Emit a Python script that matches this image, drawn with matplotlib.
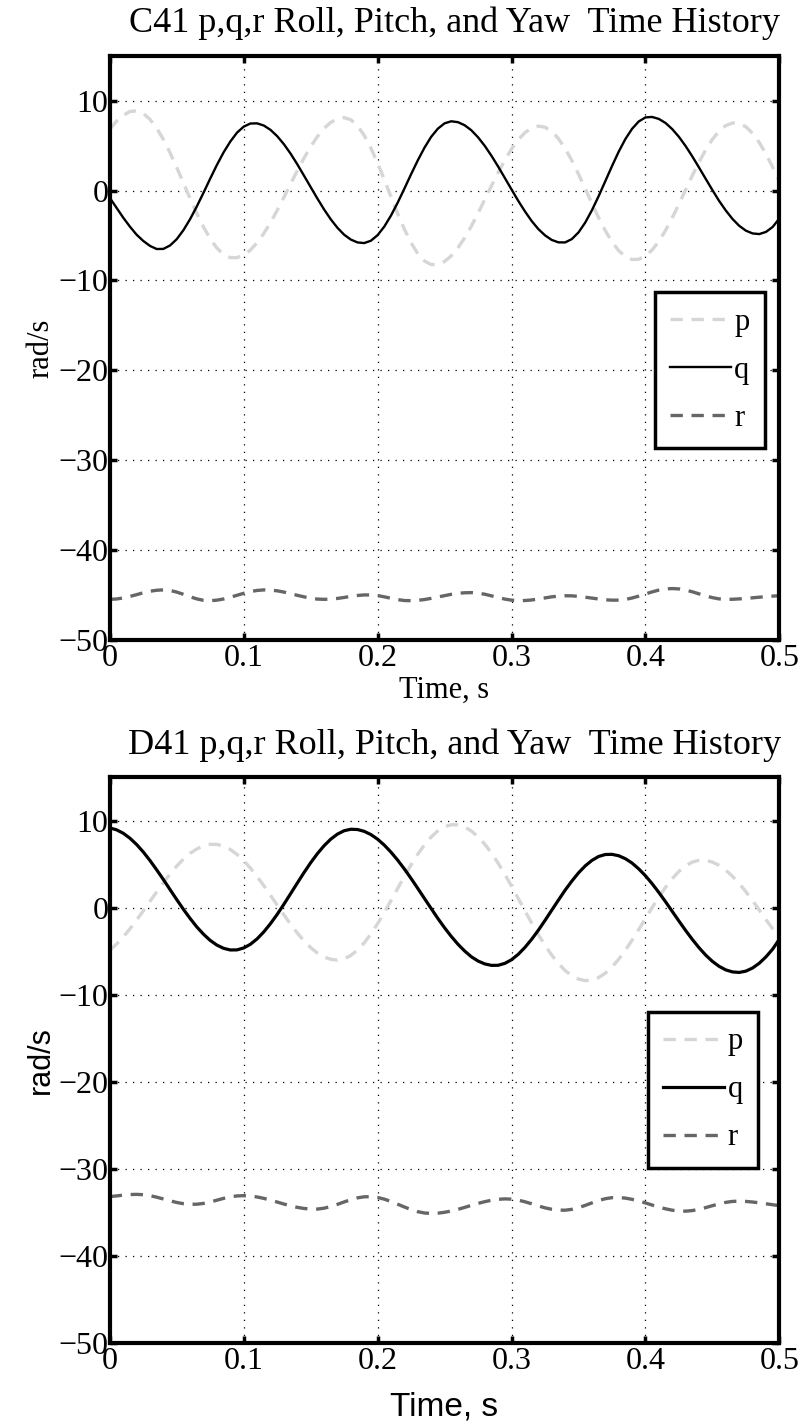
import numpy as np
import matplotlib
matplotlib.use("Agg")
import matplotlib.pyplot as plt

# Time base, 5 ms steps over half a second
t = np.linspace(0, 0.5, 101)

# C41 rates (rad/s)
c41_p = [6.8, 7.7, 8.35, 8.78, 8.86, 8.57, 7.92, 6.95, 5.69, 4.21,
         2.57, 0.85, -0.88, -2.54, -4.05, -5.36, -6.39, -7.10, -7.46, -7.46,
         -7.18, -6.62, -5.81, -4.78, -3.57, -2.21, -0.76, 0.72, 2.19, 3.59,
         4.87, 5.99, 6.91, 7.57, 7.98, 8.11, 7.87, 7.20, 6.13, 4.72,
         3.05, 1.22, -0.69, -2.57, -4.30, -5.81, -7.02, -7.83, -8.23, -8.21,
         -7.88, -7.26, -6.38, -5.26, -3.96, -2.53, -1.01, 0.52, 2.00, 3.38,
         4.62, 5.65, 6.43, 6.94, 7.16, 7.04, 6.58, 5.78, 4.69, 3.35,
         1.84, 0.22, -1.42, -3.00, -4.45, -5.70, -6.68, -7.34, -7.67, -7.64,
         -7.28, -6.60, -5.64, -4.43, -3.03, -1.51, 0.08, 1.66, 3.16, 4.53,
         5.70, 6.60, 7.22, 7.51, 7.48, 7.09, 6.36, 5.34, 4.06, 2.59,
         1.0]
c41_q = [-0.8, -1.9, -3.0, -4.0, -4.9, -5.6, -6.15, -6.5, -6.49, -6.11,
         -5.41, -4.41, -3.18, -1.77, -0.25, 1.32, 2.84, 4.24, 5.44, 6.43,
         7.10, 7.45, 7.47, 7.23, 6.75, 6.05, 5.16, 4.11, 2.93, 1.67,
         0.39, -0.88, -2.09, -3.19, -4.14, -4.91, -5.45, -5.77, -5.84, -5.58,
         -4.96, -4.01, -2.78, -1.35, 0.21, 1.81, 3.35, 4.76, 5.97, 6.88,
         7.47, 7.70, 7.60, 7.26, 6.70, 5.92, 4.97, 3.87, 2.67, 1.40,
         0.12, -1.14, -2.31, -3.38, -4.28, -4.98, -5.49, -5.76, -5.77, -5.40,
         -4.66, -3.57, -2.20, -0.64, 1.03, 2.71, 4.31, 5.72, 6.86, 7.68,
         8.13, 8.18, 7.96, 7.51, 6.83, 5.97, 4.94, 3.79, 2.56, 1.30,
         0.05, -1.15, -2.22, -3.16, -3.92, -4.46, -4.77, -4.84, -4.6, -4.05,
         -3.1]
c41_r = [-45.45, -45.41, -45.30, -45.13, -44.93, -44.72, -44.55, -44.44, -44.40, -44.46,
         -44.64, -44.89, -45.16, -45.40, -45.56, -45.60, -45.54, -45.41, -45.22, -45.00,
         -44.78, -44.59, -44.46, -44.40, -44.42, -44.50, -44.64, -44.81, -45.00, -45.17,
         -45.32, -45.42, -45.45, -45.42, -45.35, -45.24, -45.12, -45.02, -44.96, -44.96,
         -45.03, -45.17, -45.33, -45.48, -45.58, -45.60, -45.56, -45.47, -45.34, -45.19,
         -45.04, -44.89, -44.78, -44.72, -44.70, -44.76, -44.88, -45.06, -45.25, -45.42,
         -45.54, -45.60, -45.58, -45.52, -45.41, -45.29, -45.17, -45.09, -45.05, -45.06,
         -45.12, -45.21, -45.31, -45.41, -45.50, -45.54, -45.54, -45.46, -45.30, -45.09,
         -44.85, -44.62, -44.42, -44.29, -44.25, -44.29, -44.42, -44.61, -44.84, -45.07,
         -45.26, -45.40, -45.45, -45.44, -45.40, -45.35, -45.28, -45.21, -45.15, -45.09,
         -45.05]

# D41 rates (rad/s)
d41_p = [-4.88, -4.18, -3.36, -2.43, -1.42, -0.36, 0.73, 1.82, 2.88, 3.88,
         4.79, 5.59, 6.26, 6.76, 7.12, 7.29, 7.28, 7.08, 6.70, 6.14,
         5.42, 4.57, 3.60, 2.55, 1.45, 0.32, -0.80, -1.88, -2.88, -3.79,
         -4.56, -5.19, -5.64, -5.91, -6.00, -5.86, -5.47, -4.85, -4.02, -3.00,
         -1.82, -0.53, 0.83, 2.23, 3.61, 4.93, 6.15, 7.23, 8.14, 8.83,
         9.31, 9.54, 9.52, 9.28, 8.82, 8.16, 7.31, 6.29, 5.13, 3.85,
         2.49, 1.08, -0.34, -1.73, -3.06, -4.30, -5.43, -6.39, -7.20, -7.79,
         -8.18, -8.36, -8.30, -8.01, -7.51, -6.80, -5.91, -4.88, -3.72, -2.49,
         -1.23, 0.03, 1.24, 2.35, 3.35, 4.18, 4.82, 5.25, 5.46, 5.45,
         5.25, 4.87, 4.32, 3.62, 2.79, 1.85, 0.82, -0.26, -1.37, -2.4,
         -3.3]
d41_q = [9.17, 8.96, 8.57, 8.00, 7.28, 6.42, 5.44, 4.37, 3.26, 2.10,
         0.95, -0.17, -1.22, -2.19, -3.03, -3.74, -4.28, -4.65, -4.84, -4.83,
         -4.61, -4.19, -3.57, -2.77, -1.82, -0.76, 0.40, 1.61, 2.83, 4.03,
         5.17, 6.21, 7.12, 7.88, 8.46, 8.85, 9.02, 8.99, 8.78, 8.41,
         7.88, 7.20, 6.39, 5.47, 4.46, 3.37, 2.23, 1.07, -0.08, -1.22,
         -2.29, -3.28, -4.18, -4.96, -5.62, -6.11, -6.44, -6.61, -6.60, -6.38,
         -5.96, -5.34, -4.55, -3.62, -2.58, -1.45, -0.28, 0.88, 2.02, 3.06,
         4.01, 4.81, 5.44, 5.89, 6.12, 6.14, 5.98, 5.64, 5.14, 4.47,
         3.68, 2.77, 1.76, 0.70, -0.41, -1.52, -2.60, -3.63, -4.58, -5.43,
         -6.15, -6.72, -7.13, -7.36, -7.42, -7.27, -6.91, -6.36, -5.63, -4.74,
         -3.6]
d41_r = [-33.16, -33.08, -32.99, -32.92, -32.90, -32.94, -33.05, -33.22, -33.43, -33.64,
         -33.83, -33.97, -34.04, -34.03, -33.94, -33.78, -33.57, -33.36, -33.19, -33.08,
         -33.05, -33.10, -33.20, -33.36, -33.56, -33.78, -34.01, -34.21, -34.39, -34.52,
         -34.59, -34.59, -34.49, -34.30, -34.05, -33.77, -33.51, -33.30, -33.18, -33.17,
         -33.26, -33.45, -33.72, -34.03, -34.35, -34.65, -34.89, -35.04, -35.09, -35.06,
         -34.96, -34.81, -34.62, -34.40, -34.16, -33.94, -33.74, -33.58, -33.47, -33.42,
         -33.45, -33.56, -33.75, -33.98, -34.22, -34.45, -34.61, -34.71, -34.72, -34.62,
         -34.43, -34.17, -33.88, -33.61, -33.40, -33.28, -33.27, -33.33, -33.47, -33.66,
         -33.88, -34.13, -34.36, -34.56, -34.72, -34.81, -34.83, -34.76, -34.61, -34.42,
         -34.20, -33.99, -33.82, -33.71, -33.68, -33.71, -33.78, -33.87, -33.98, -34.09,
         -34.20]

xticks = [0, 0.1, 0.2, 0.3, 0.4, 0.5]
xticklabels = ['0', '0.1', '0.2', '0.3', '0.4', '0.5']
yticks = [-50, -40, -30, -20, -10, 0, 10]

SERIF = 'Liberation Serif'
SANS = 'Liberation Sans'
plt.rcParams['font.family'] = SERIF
plt.rcParams['axes.unicode_minus'] = True

fig = plt.figure(figsize=(8.01, 14.26), dpi=100)
ax1 = fig.add_axes([0.137, 0.551, 0.836, 0.410])
ax2 = fig.add_axes([0.137, 0.058, 0.836, 0.397])

dash = (3.7, 2.6)


def draw(ax, p, q, r, q_lw, title, label_font, label_size, xpad, legend_anchor):
    ax.plot(t, p, color='#d6d6d6', lw=2.4, dashes=dash, label='p')
    ax.plot(t, q, color='black', lw=q_lw, label='q')
    ax.plot(t, r, color='#666666', lw=2.4, dashes=dash, label='r')

    ax.set_xlim(0, 0.5)
    ax.set_ylim(-50, 15)
    ax.set_xticks(xticks)
    ax.set_xticklabels(xticklabels)
    ax.set_yticks(yticks)
    ax.grid(True, color='black', linestyle=(0, (1, 5)), linewidth=0.9)
    ax.tick_params(direction='in', length=5, width=2.5, top=True, right=True,
                   labelsize=23)
    ax.tick_params(axis='x', pad=3)
    ax.tick_params(axis='y', pad=1)
    for s in ax.spines.values():
        s.set_linewidth(3)

    ax.set_title(title, fontsize=26, family=SERIF, pad=17, x=0.515)
    ax.set_xlabel('Time, s', fontsize=label_size, family=label_font, labelpad=xpad)
    ax.set_ylabel('rad/s', fontsize=22, family=label_font, labelpad=2)

    leg = ax.legend(loc='upper right', bbox_to_anchor=legend_anchor,
                    fancybox=False, framealpha=1, edgecolor='black',
                    fontsize=22, handlelength=2.0, handletextpad=0.1,
                    labelspacing=0.62, borderpad=0.5, borderaxespad=0,
                    markerfirst=True)
    leg.get_frame().set_linewidth(2.5)


draw(ax1, c41_p, c41_q, c41_r, 1.7,
     'C41 p,q,r Roll, Pitch, and Yaw  Time History', SERIF, 22, 2, (0.978, 0.595))
draw(ax2, d41_p, d41_q, d41_r, 2.3,
     'D41 p,q,r Roll, Pitch, and Yaw  Time History', SANS, 24, 11, (0.968, 0.585))

fig.savefig('out.png', dpi=100)
